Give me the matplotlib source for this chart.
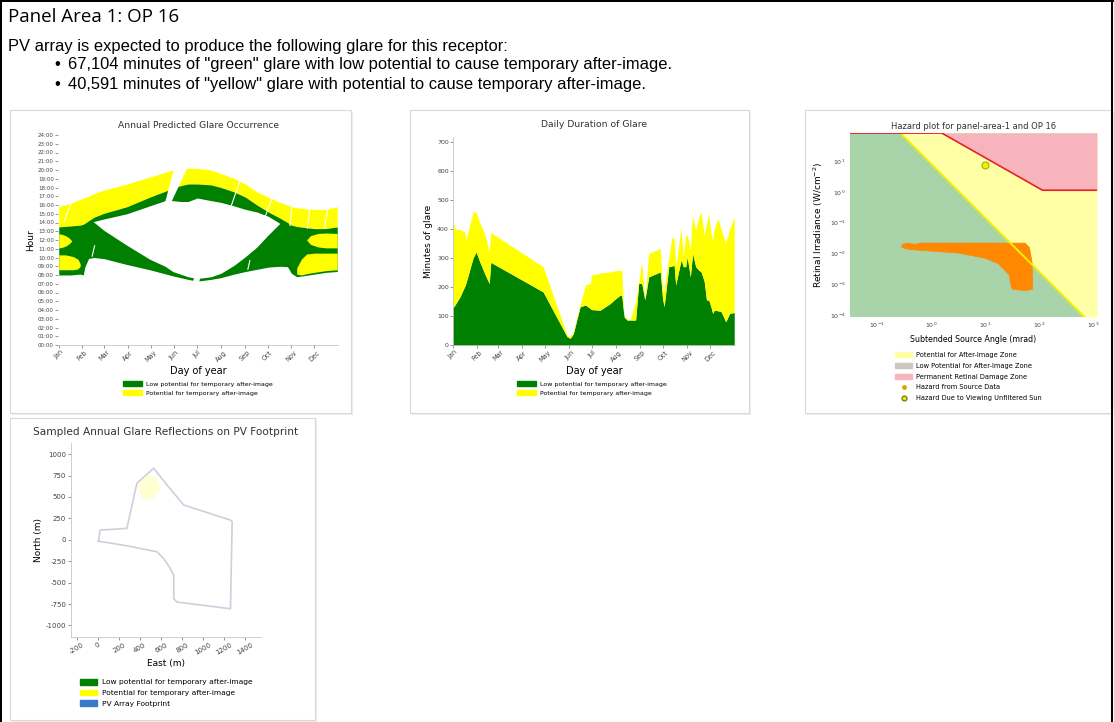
import numpy as np
import matplotlib.pyplot as plt
from matplotlib.patches import Rectangle, Patch
from matplotlib.lines import Line2D

# ---------------- report text ----------------
page_title = "Panel Area 1: OP 16"
intro_line = "PV array is expected to produce the following glare for this receptor:"
bullet_lines = [
    '67,104 minutes of "green" glare with low potential to cause temporary after-image.',
    '40,591 minutes of "yellow" glare with potential to cause temporary after-image.',
]

months = ['Jan', 'Feb', 'Mar', 'Apr', 'May', 'Jun',
          'Jul', 'Aug', 'Sep', 'Oct', 'Nov', 'Dec']
month_days = [1, 32, 60, 91, 121, 152, 182, 213, 244, 274, 305, 335]

# ---------------- annual glare occurrence (hour of day) ----------------
occ_days = [1, 16, 29, 33, 35, 40, 47, 60, 90, 120, 150, 160, 170, 182, 200, 213,
            230, 245, 260, 275, 290, 300, 305, 312, 320, 335, 350, 365]
occ_yel_top = [15.8, 16.2, 16.65, 16.8, 16.85, 17.0, 17.3, 17.7, 18.4, 19.2, 20.0, 20.1,
               20.2, 20.2, 20.0, 19.6, 19.05, 18.4, 17.5, 16.9, 16.3, 16.0, 15.8, 15.7,
               15.6, 15.5, 15.5, 15.8]
occ_grn_top = [13.5, 13.6, 13.7, 13.8, 13.9, 14.2, 14.6, 15.05, 15.8, 16.9, 17.9, 18.2,
               18.4, 18.4, 18.3, 18.0, 17.5, 16.9, 16.0, 15.2, 14.5, 14.0, 13.7, 13.55,
               13.45, 13.3, 13.3, 13.5]
occ_grn_bot = [8.0, 8.0, 8.1, 8.0, 8.9, 9.9, 10.0, 9.87, 9.2, 8.6, 7.9, 7.7,
               7.5, 7.3, 7.5, 7.7, 8.1, 8.4, 8.65, 8.9, 9.0, 8.95, 8.2, 7.8,
               7.9, 8.1, 8.3, 8.4]

# clear area between the morning and evening glare bands
lens_days = [46, 60, 90, 120, 140, 150, 160, 170, 182, 200, 213, 230, 245, 260, 275, 290]
lens_top = [14.1, 14.4, 15.0, 15.9, 16.5, 16.5, 16.4, 16.4, 16.8, 16.5, 16.3, 15.9,
            15.5, 15.2, 14.7, 13.9]
lens_bot = [14.1, 13.1, 11.4, 9.8, 9.0, 8.4, 8.1, 7.8, 7.6, 7.8, 8.2, 9.1,
            10.1, 11.2, 12.6, 13.9]

# winter pockets of "yellow" glare inside the green region
blob_a_days = [1, 5, 10, 15, 18]
blob_a_top = [12.7, 12.65, 12.5, 12.2, 11.9]
blob_a_bot = [11.1, 11.15, 11.3, 11.6, 11.9]
blob_b_days = [1, 10, 20, 26, 29]
blob_b_top = [10.3, 10.3, 10.1, 9.8, 9.3]
blob_b_bot = [8.6, 8.6, 8.6, 8.7, 9.0]
blob_c_days = [325, 330, 340, 350, 365]
blob_c_top = [12.0, 12.5, 12.75, 12.8, 12.75]
blob_c_bot = [12.0, 11.5, 11.2, 11.1, 11.1]
blob_d_days = [312, 318, 325, 335, 350, 365]
blob_d_top = [8.8, 9.8, 10.4, 10.5, 10.5, 10.5]
blob_d_bot = [8.1, 8.0, 8.15, 8.3, 8.5, 8.6]

# daylight-saving breaks in the glare record
june_gap_days = [153, 171, 148, 140]
june_gap_hours = [20.6, 20.6, 16.3, 16.3]
june_morn_gap_days = [179, 187, 184, 176]
june_morn_gap_hours = [8.1, 8.1, 7.0, 7.0]
gap_d0 = [17.5, 240, 281, 306, 329, 353, 251, 48]
gap_h0 = [16.3, 19.3, 17.0, 16.1, 15.6, 15.6, 9.7, 11.4]
gap_d1 = [7.5, 226, 270, 303, 326, 348, 248, 44.5]
gap_h1 = [14.0, 15.8, 14.5, 13.6, 13.3, 13.3, 8.6, 10.1]

# ---------------- daily duration of glare (minutes) ----------------
dur_days = [1, 4, 10, 16, 18, 27, 31, 36, 42, 48, 50, 118, 149, 153, 157, 166, 173,
            179, 181, 192, 205, 210, 218, 220, 223, 227, 231, 238, 242, 246, 250, 255,
            270, 273, 275, 281, 285, 288, 290, 297, 300, 303, 305, 309, 312, 316, 320,
            323, 327, 330, 333, 336, 338, 340, 345, 349, 355, 360, 366]
dur_total = [425, 400, 398, 390, 365, 459, 458, 420, 385, 321, 388, 270, 34, 30, 45, 140, 207,
             212, 241, 248, 252, 255, 258, 258, 97, 92, 86, 150, 218, 287, 155, 316,
             333, 189, 190, 300, 370, 367, 270, 402, 304, 379, 379, 330, 448, 396, 440,
             459, 379, 420, 453, 380, 361, 400, 436, 400, 350, 400, 442]
dur_green = [128, 140, 166, 201, 215, 300, 321, 285, 247, 212, 285, 183, 29, 23, 38, 132, 138,
             126, 122, 120, 143, 155, 172, 172, 97, 86, 86, 86, 212, 212, 155, 235,
             252, 160, 132, 270, 272, 275, 207, 293, 270, 270, 304, 235, 316, 270, 258,
             252, 220, 155, 155, 130, 109, 120, 118, 115, 80, 109, 112]

# ---------------- hazard plot ----------------
afterimage_angle = [0.27, 646.0]        # mrad, boundary of after-image zone
afterimage_irr = [79.0, 1.0e-4]         # W/cm^2
damage_angle = [1.58, 115.0, 1175.0]    # retinal damage threshold
damage_irr = [79.0, 1.12, 1.12]
source_log_angle = [-0.54, -0.45, -0.3, -0.2, 1.74, 1.82, 1.87, 1.88, 1.75, 1.5, 1.47,
                    1.45, 1.37, 1.24, 1.0, 0.5, 0.0, -0.3, -0.45, -0.54]
source_log_irr = [-1.72, -1.66, -1.70, -1.66, -1.66, -1.8, -2.3, -3.15, -3.2, -3.15, -2.95,
                  -2.7, -2.55, -2.32, -2.15, -1.98, -1.92, -1.88, -1.85, -1.80]
sun_angle = 9.8
sun_irr = 7.6

# ---------------- PV footprint (m) ----------------
fp_east = [6, 22, 276, 371, 530, 657, 816, 1260, 1276, 1260, 752, 721, 721, 689,
           625, 562, 276, 6]
fp_north = [-16, 113, 133, 660, 836, 640, 406, 230, 211, -805, -727, -688, -414, -336,
            -219, -140, -70, -16]
glare_east = [380, 450, 560, 600, 520, 420]
glare_north = [640, 770, 720, 600, 470, 480]

GRN = '#008000'
YEL = '#ffff00'

W, H = 1114, 722
fig = plt.figure(figsize=(W / 100, H / 100), dpi=100)


def axes_px(x0, y0, x1, y1):
    return fig.add_axes([x0 / W, 1 - y1 / H, (x1 - x0) / W, (y1 - y0) / H])


def frame_px(x0, y0, x1, y1):
    fig.patches.append(Rectangle(((x0 + 2) / W, 1 - (y1 + 2) / H), (x1 - x0) / W,
                                 (y1 - y0) / H, transform=fig.transFigure,
                                 facecolor='#eeeeee', edgecolor='none', zorder=-3))
    fig.patches.append(Rectangle((x0 / W, 1 - y1 / H), (x1 - x0) / W, (y1 - y0) / H,
                                 transform=fig.transFigure, facecolor='white',
                                 edgecolor='#d9d9d9', lw=0.8, zorder=-2))


def text_px(x, y, s, **kw):
    fig.text(x / W, 1 - y / H, s, **kw)


def legend_px(ax, handles, x, y, fs=4.5, spacing=0.55, hlen=3.0):
    ax.legend(handles=handles, loc='upper left', bbox_to_anchor=(x / W, 1 - y / H),
              bbox_transform=fig.transFigure, frameon=False, fontsize=fs,
              handlelength=hlen, handleheight=0.8, labelspacing=spacing,
              borderpad=0, borderaxespad=0, handletextpad=0.6)


# outer page border
for rect in [(0, 0, 2 / W, 1), (0, 1 - 2 / H, 1, 2 / H), (1 - 3 / W, 0, 2 / W, 1)]:
    fig.patches.append(Rectangle(rect[:2], rect[2], rect[3], transform=fig.transFigure,
                                 facecolor='black', edgecolor='none'))

text_px(8, 17, page_title, fontsize=13.5, family='Open Sans', va='center')
text_px(8, 47, intro_line, fontsize=11.9, family='Liberation Sans', va='center')
for i, line in enumerate(bullet_lines):
    text_px(54, 65 + 20 * i, '\u2022', fontsize=11.9, family='Liberation Sans', va='center')
    text_px(68, 65 + 20 * i, line, fontsize=11.9, family='Liberation Sans', va='center')

frame_px(10, 110, 351, 413)
frame_px(410, 110, 749, 413)
frame_px(805, 110, 1112, 413)
frame_px(10, 418, 315, 720)

glare_handles = [Patch(color=GRN, label='Low potential for temporary after-image'),
                 Patch(color=YEL, label='Potential for temporary after-image')]

# ---- annual predicted glare occurrence ----
ax1 = axes_px(58, 135, 338, 345)
ax1.patch.set_alpha(0)
ax1.fill_between(occ_days, occ_grn_top, occ_yel_top, color=YEL, lw=0)
ax1.fill_between(occ_days, occ_grn_bot, occ_grn_top, color=GRN, lw=0)
ax1.fill_between(lens_days, lens_bot, lens_top, color='white', lw=0)
for d, lo, hi in [(blob_a_days, blob_a_bot, blob_a_top), (blob_b_days, blob_b_bot, blob_b_top),
                  (blob_c_days, blob_c_bot, blob_c_top), (blob_d_days, blob_d_bot, blob_d_top)]:
    ax1.fill_between(d, lo, hi, color=YEL, lw=0)
ax1.fill(june_gap_days, june_gap_hours, color='white', lw=0)
ax1.fill(june_morn_gap_days, june_morn_gap_hours, color='white', lw=0)
for d0, h0, d1, h1 in zip(gap_d0, gap_h0, gap_d1, gap_h1):
    ax1.plot([d0, d1], [h0, h1], color='white', lw=0.8, solid_capstyle='butt')
ax1.set_xlim(0, 366)
ax1.set_ylim(0, 24)
ax1.set_yticks(range(25))
ax1.set_yticklabels([f'{h:02d}:00' for h in range(25)], fontsize=4)
ax1.set_xticks(month_days)
ax1.set_xticklabels(months, fontsize=4.7, rotation=45)
ax1.tick_params(length=2, width=0.4, pad=1, colors='#444444')
for s in ['top', 'right', 'left']:
    ax1.spines[s].set_visible(False)
ax1.spines['bottom'].set_color('#bbbbbb')
ax1.spines['bottom'].set_linewidth(0.5)
ax1.set_title('Annual Predicted Glare Occurrence', fontsize=6.6, pad=5, color='#333333')
ax1.set_ylabel('Hour', fontsize=6.5, labelpad=2)
ax1.set_xlabel('Day of year', fontsize=7, labelpad=2)
legend_px(ax1, glare_handles, 123, 381)

# ---- daily duration of glare ----
ax2 = axes_px(453, 137, 735, 345)
ax2.patch.set_alpha(0)
ax2.fill_between(dur_days, 0, dur_green, color=GRN, lw=0)
ax2.fill_between(dur_days, dur_green, dur_total, color=YEL, lw=0)
ax2.set_xlim(1, 367)
ax2.set_ylim(0, 717)
ax2.set_yticks(range(0, 701, 100))
ax2.set_yticklabels([str(v) for v in range(0, 701, 100)], fontsize=4.5)
ax2.set_xticks(month_days)
ax2.set_xticklabels(months, fontsize=4.7, rotation=45)
ax2.tick_params(length=2, width=0.4, pad=1, colors='#444444')
for s in ['top', 'right']:
    ax2.spines[s].set_visible(False)
for s in ['left', 'bottom']:
    ax2.spines[s].set_color('#bbbbbb')
    ax2.spines[s].set_linewidth(0.5)
ax2.set_title('Daily Duration of Glare', fontsize=6.7, pad=7, color='#333333')
ax2.set_ylabel('Minutes of glare', fontsize=6.5, labelpad=3)
ax2.set_xlabel('Day of year', fontsize=7, labelpad=2)
legend_px(ax2, glare_handles, 517, 381)

# ---- hazard plot ----
ax3 = axes_px(850, 133, 1097, 317)
x_lo, x_hi = 10 ** -1.5, 10 ** 3.07
y_lo, y_hi = 10 ** -4.05, 10 ** 1.9
ax3.set_xscale('log')
ax3.set_yscale('log')
ax3.set_facecolor('#a9d3a9')
xs = np.logspace(-1.5, 3.07, 300)
slope, icpt = np.polyfit(np.log10(afterimage_angle), np.log10(afterimage_irr), 1)
ai_line = 10 ** (icpt + slope * np.log10(xs))
ax3.fill_between(xs, np.clip(ai_line, y_lo, y_hi), y_hi, color='#ffffa6', lw=0)
ax3.plot(xs, ai_line, color='#f2f200', lw=1.4)
dmg_line = np.interp(np.log10(xs), np.log10(damage_angle), np.log10(damage_irr))
ax3.fill_between(xs, np.clip(10 ** dmg_line, y_lo, y_hi), y_hi,
                 where=10 ** dmg_line < y_hi * 1.5, color='#f7b4bc', lw=0)
ax3.plot(xs, 10 ** dmg_line, color='#e8202a', lw=1.2)
ax3.fill(10 ** np.array(source_log_angle), 10 ** np.array(source_log_irr),
         color='#ff8800', lw=0.5)
ax3.plot([sun_angle], [sun_irr], 'o', ms=5, mfc='#f4f000', mec='#a0b020', mew=0.8)
ax3.set_xlim(x_lo, x_hi)
ax3.set_ylim(y_lo, y_hi)
ax3.set_xticks([1e-1, 1e0, 1e1, 1e2, 1e3])
ax3.set_yticks([1e-4, 1e-3, 1e-2, 1e-1, 1e0, 1e1])
ax3.minorticks_off()
ax3.tick_params(labelsize=4.5, length=0, pad=3, colors='#444444')
for s in ax3.spines.values():
    s.set_visible(False)
ax3.set_title('Hazard plot for panel-area-1 and OP 16', fontsize=6.0, pad=3, color='#333333')
ax3.set_xlabel('Subtended Source Angle (mrad)', fontsize=5.7, labelpad=3)
ax3.set_ylabel('Retinal Irradiance (W/cm$^{-2}$)', fontsize=6.5, labelpad=3)
hazard_handles = [
    Patch(color='#ffffa6', label='Potential for After-Image Zone'),
    Patch(color='#c9c9c2', label='Low Potential for After-Image Zone'),
    Patch(color='#f7b4bc', label='Permanent Retinal Damage Zone'),
    Line2D([], [], ls='none', marker='o', ms=2.5, mfc='#ff8800', mec='#d0b000',
           label='Hazard from Source Data'),
    Line2D([], [], ls='none', marker='o', ms=3.5, mfc='#f4f000', mec='#6a8a20',
           label='Hazard Due to Viewing Unfiltered Sun'),
]
legend_px(ax3, hazard_handles, 895, 352, fs=4.8, spacing=0.72, hlen=2.6)

# ---- footprint ----
ax4 = axes_px(71, 443, 261, 637)
ax4.patch.set_alpha(0)
ax4.fill(glare_east, glare_north, color=YEL, alpha=0.18, lw=0)
ax4.plot(fp_east, fp_north, color='#cdd0dc', lw=1.2)
ax4.set_xlim(-255, 1550)
ax4.set_ylim(-1135, 1130)
ax4.set_xticks(range(-200, 1401, 200))
ax4.set_xticklabels([str(v) for v in range(-200, 1401, 200)], fontsize=5, rotation=30)
ax4.set_yticks(range(-1000, 1001, 250))
ax4.set_yticklabels([str(v) for v in range(-1000, 1001, 250)], fontsize=5)
ax4.tick_params(length=2, width=0.4, pad=1.5, colors='#444444')
for s in ['top', 'right']:
    ax4.spines[s].set_visible(False)
for s in ['left', 'bottom']:
    ax4.spines[s].set_color('#bbbbbb')
    ax4.spines[s].set_linewidth(0.5)
ax4.set_title('Sampled Annual Glare Reflections on PV Footprint', fontsize=7.6, pad=6,
              color='#333333')
ax4.set_xlabel('East (m)', fontsize=6.5, labelpad=2)
ax4.set_ylabel('North (m)', fontsize=6.5, labelpad=2)
foot_handles = glare_handles + [Patch(color='#3a78c8', label='PV Array Footprint')]
legend_px(ax4, foot_handles, 80, 679, fs=5.4, spacing=0.55, hlen=2.3)

fig.savefig('out.png', dpi=100, facecolor='white')
